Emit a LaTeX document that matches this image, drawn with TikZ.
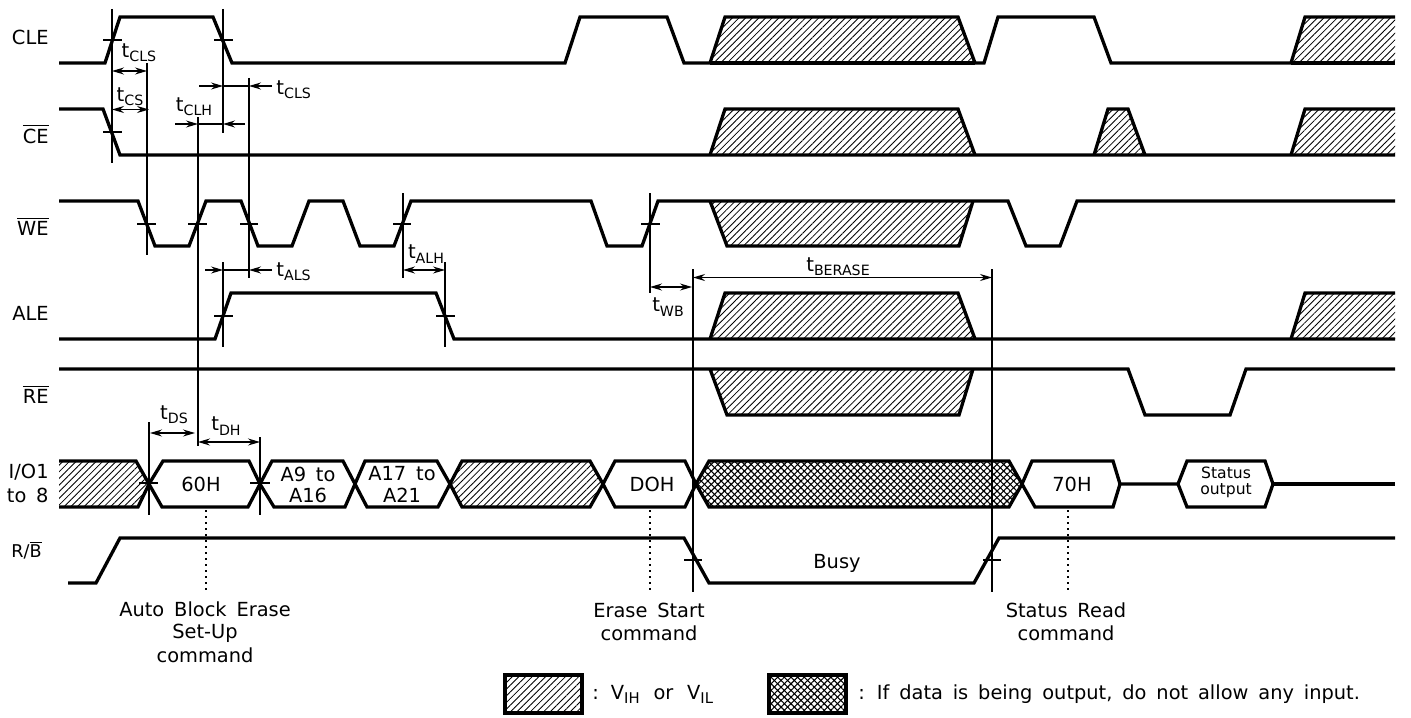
\documentclass[tikz,border=0pt]{standalone}
\usepackage{fontspec}
\setmainfont[WordSpace=1.6]{DejaVu Sans}
\usetikzlibrary{arrows.meta,patterns.meta}
\newcommand{\tsub}[1]{t\raisebox{-2.2pt}{\fontsize{7.1}{8}\selectfont #1}}
\newcommand{\ovl}[1]{$\overline{\mbox{#1}}$}
\tikzset{
  sig/.style={line width=1.65pt,line join=miter,miter limit=10},
  thin line/.style={line width=0.85pt},
  tick/.style={line width=0.6pt},
  hatch/.style={pattern={Lines[angle=45,distance=2.35pt,line width=0.42pt]}},
  xhatchA/.style={pattern={Lines[angle=45,distance=2.35pt,line width=0.55pt]}},
  xhatchB/.style={pattern={Lines[angle=-45,distance=2.35pt,line width=0.55pt]}},
  dimline/.style={line width=0.6pt,{Stealth[length=6pt,width=3.5pt,inset=2pt]}-{Stealth[length=6pt,width=3.5pt,inset=2pt]}},
  dimto/.style={line width=0.6pt,-{Stealth[length=6pt,width=3.5pt,inset=2pt]}},
  lab/.style={inner sep=0pt,font=\fontsize{9.7}{11}\selectfont},
  rblab/.style={inner sep=0pt,font=\fontsize{8.8}{10}\selectfont},
  timelab/.style={inner sep=0pt,font=\fontsize{9.8}{11}\selectfont},
  small/.style={inner sep=0pt,font=\fontsize{7.8}{9}\selectfont},
  dots/.style={line width=0.8pt,dash pattern=on 0.9pt off 2.1pt}
}
\begin{document}
\begin{tikzpicture}[x=0.5pt,y=-0.5pt]
\useasboundingbox[fill=white] (0,0) rectangle (1411,717);
% hatched regions
\foreach \t/\b in {17/63,109/155,293/339}{
  \fill[hatch] (710,\b)--(725,\t)--(958,\t)--(975,\b)--cycle;
  \fill[hatch] (1291,\b)--(1305,\t)--(1395,\t)--(1395,\b)--cycle;
}
\fill[hatch] (1094,155)--(1108,109)--(1128,109)--(1145,155)--cycle;
\foreach \t/\b in {201/246,369/415}{
  \fill[hatch] (710,\t)--(727,\b)--(959,\b)--(973,\t)--cycle;
}
\fill[hatch] (59,461)--(136,461)--(149,484)--(138,507)--(59,507)--cycle;
\fill[hatch] (450,484)--(462,461)--(590,461)--(603,484)--(590,507)--(462,507)--cycle;
\fill[xhatchA] (696,484)--(709,461)--(1009,461)--(1022,484)--(1009,507)--(709,507)--cycle;
\fill[xhatchB] (696,484)--(709,461)--(1009,461)--(1022,484)--(1009,507)--(709,507)--cycle;
\fill[hatch] (505,675) rectangle (582,713);
\fill[xhatchA] (769,675) rectangle (846,713);
\fill[xhatchB] (769,675) rectangle (846,713);
% CLE
\draw[sig] (59,63)--(105,63)--(120,17)--(213,17)--(232,63)--(565,63)--(580,17)--(667,17)--(684,63)--(710,63)--(725,17)--(958,17)--(975,63)--(984,63)--(998,17)--(1094,17)--(1111,63)--(1291,63)--(1305,17)--(1395,17);
\draw[sig] (710,63)--(975,63) (1291,63)--(1395,63);
% CE
\draw[sig] (59,109)--(103,109)--(120,155)--(1395,155);
\draw[sig] (710,155)--(725,109)--(958,109)--(975,155);
\draw[sig] (1094,155)--(1108,109)--(1128,109)--(1145,155);
\draw[sig] (1291,155)--(1305,109)--(1395,109);
% WE
\draw[sig] (59,201)--(138,201)--(155,246)--(189,246)--(206,201)--(241,201)--(258,246)--(292,246)--(309,201)--(343,201)--(360,246)--(394,246)--(411,201)--(591,201)--(607,246)--(642,246)--(658,201)--(1008,201)--(1026,246)--(1060,246)--(1077,201)--(1395,201);
\draw[sig] (710,201)--(727,246)--(959,246)--(973,201);
% ALE
\draw[sig] (59,339)--(215,339)--(231,293)--(436,293)--(454,339)--(1395,339);
\draw[sig] (710,339)--(725,293)--(958,293)--(975,339);
\draw[sig] (1291,339)--(1305,293)--(1395,293);
% RE
\draw[sig] (59,369)--(1128,369)--(1145,415)--(1230,415)--(1246,369)--(1395,369);
\draw[sig] (710,369)--(727,415)--(959,415)--(973,369);
% IO
\draw[sig] (59,461)--(136,461)--(149,484)--(138,507)--(59,507);
\draw[sig] (149,484)--(163,461)--(249,461)--(260,484)--(248,507)--(162,507)--cycle;
\draw[sig] (260,484)--(272,461)--(343,461)--(355,484)--(345,507)--(274,507)--cycle;
\draw[sig] (355,484)--(365,461)--(437,461)--(450,484)--(438,507)--(367,507)--cycle;
\draw[sig] (450,484)--(462,461)--(590,461)--(603,484)--(590,507)--(462,507)--cycle;
\draw[sig] (603,484)--(615,461)--(685,461)--(696,484)--(685,507)--(615,507)--cycle;
\draw[sig] (696,484)--(709,461)--(1009,461)--(1022,484)--(1009,507)--(709,507)--cycle;
\draw[sig] (1022,484)--(1032,461)--(1113,461)--(1120,484)--(1113,507)--(1035,507)--cycle;
\draw[sig] (1120,484)--(1178,484)--(1187,461)--(1265,461)--(1273,484)--(1265,507)--(1187,507)--(1178,484);
\draw[sig] (1273,484)--(1395,484);
% R/B
\draw[sig] (68,583)--(96,583)--(120,538)--(684,538)--(709,583)--(974,583)--(999,538)--(1395,538);
% guide lines
\coordinate (g1a) at (112,9);   \coordinate (g1b) at (112,163);
\coordinate (g2a) at (223,9);   \coordinate (g2b) at (223,133);
\coordinate (g3a) at (147,63);  \coordinate (g3b) at (147,255);
\coordinate (g4a) at (198,117); \coordinate (g4b) at (198,446);
\coordinate (g5a) at (249,78);  \coordinate (g5b) at (249,278);
\coordinate (g6a) at (223,262); \coordinate (g6b) at (223,347);
\coordinate (g7a) at (403,193); \coordinate (g7b) at (403,278);
\coordinate (g8a) at (445,262); \coordinate (g8b) at (445,347);
\coordinate (g9a) at (149,422); \coordinate (g9b) at (149,515);
\coordinate (g10a) at (260,437);\coordinate (g10b) at (260,515);
\coordinate (g11a) at (650,193);\coordinate (g11b) at (650,293);
\coordinate (g12a) at (693,269);\coordinate (g12b) at (693,592);
\coordinate (g13a) at (992,269);\coordinate (g13b) at (992,592);
\foreach \n in {1,...,13}{\draw[thin line] (g\n a)--(g\n b);}
% ticks
\draw[tick] (103,40)--(122,40) (103,132)--(122,132) (214,40)--(233,40);
\draw[tick] (137,224)--(156,224) (188,224)--(207,224) (240,224)--(258,224) (393,224)--(411,224) (641,224)--(660,224);
\draw[tick] (214,316)--(233,316) (436,316)--(455,316);
\draw[tick] (139,483)--(158,483) (250,483)--(270,483);
\draw[tick] (684,560)--(702,560) (983,560)--(1001,560);
% dimension arrows
\coordinate (a1) at (112,71);  \coordinate (a2) at (147,71);
\draw[dimline] (a1)--(a2);
\coordinate (a3) at (112,109.5); \coordinate (a4) at (149,109.5);
\draw[dimline] (a3)--(a4);
\coordinate (b1) at (199,86); \coordinate (b2) at (223,86); \coordinate (b3) at (249,86); \coordinate (b4) at (272,86);
\draw[dimto] (b1)--(b2); \draw[tick] (b2)--(b3); \draw[dimto] (b4)--(b3);
\coordinate (c1) at (175,124); \coordinate (c2) at (198,124); \coordinate (c3) at (223,124); \coordinate (c4) at (245,124);
\draw[dimto] (c1)--(c2); \draw[tick] (c2)--(c3); \draw[dimto] (c4)--(c3);
\coordinate (d1) at (205,270); \coordinate (d2) at (223,270); \coordinate (d3) at (249,270); \coordinate (d4) at (272,270);
\draw[dimto] (d1)--(d2); \draw[tick] (d2)--(d3); \draw[dimto] (d4)--(d3);
\coordinate (e1) at (403,270); \coordinate (e2) at (445,270);
\draw[dimline] (e1)--(e2);
\coordinate (f1) at (150,433); \coordinate (f2) at (195,433);
\draw[dimline] (f1)--(f2);
\coordinate (h1) at (198,442); \coordinate (h2) at (260,442);
\draw[dimline] (h1)--(h2);
\coordinate (i1) at (650,287); \coordinate (i2) at (692,287);
\draw[dimline] (i1)--(i2);
\coordinate (j1) at (693,277.5); \coordinate (j2) at (992,277.5);
\draw[dimline] (j1)--(j2);
% dotted
\coordinate (k1a) at (206,510); \coordinate (k1b) at (206,592);
\coordinate (k2a) at (650,510); \coordinate (k2b) at (650,592);
\coordinate (k3a) at (1068,510); \coordinate (k3b) at (1068,592);
\draw[dots] (k1a)--(k1b); \draw[dots] (k2a)--(k2b); \draw[dots] (k3a)--(k3b);
% legend
\draw[line width=2pt] (505,675) rectangle (582,713);
\draw[line width=2pt] (769,675) rectangle (846,713);
% signal names
\node[lab,anchor=east] (nCLE) at (49,37) {CLE};
\node[lab,anchor=east] (nCE) at (49,134) {\ovl{CE}};
\node[lab,anchor=east] (nWE) at (49,226) {\ovl{WE}};
\node[lab,anchor=east] (nALE) at (49,313) {ALE};
\node[lab,anchor=east] (nRE) at (49,394) {\ovl{RE}};
\node[lab,anchor=east] (nIO) at (49,472) {I/O1};
\node[lab,anchor=east] (nTo) at (49,495) {to 8};
\node[rblab,anchor=east] (nRB) at (42,550) {R/\ovl{B}};
% timing labels
\node[timelab] (l1) at (139,53) {\tsub{CLS}};
\node[timelab] (l2) at (130,97) {\tsub{CS}};
\node[timelab,anchor=west] (l3) at (276,90) {\tsub{CLS}};
\node[timelab] (l4) at (194,107) {\tsub{CLH}};
\node[timelab,anchor=west] (l5) at (276,272) {\tsub{ALS}};
\node[timelab] (l6) at (426,254) {\tsub{ALH}};
\node[timelab] (l7) at (668,307) {\tsub{WB}};
\node[timelab] (l8) at (838,267) {\tsub{BERASE}};
\node[timelab] (l9) at (174,415) {\tsub{DS}};
\node[timelab] (l10) at (226,426) {\tsub{DH}};
% box text
\node[lab] (t60) at (201,484) {60H};
\node[lab] (tA9) at (308,474) {A9 to};
\node[lab] (tA16) at (308,495) {A16};
\node[lab] (tA17) at (402,474) {A17 to};
\node[lab] (tA21) at (402,495) {A21};
\node[lab] (tD0) at (652,484) {DOH};
\node[lab] (t70) at (1072,484) {70H};
\node[small] (tS1) at (1226,473) {Status};
\node[small] (tS2) at (1226,491) {output};
\node[lab] (tBusy) at (837,563) {Busy};
% notes
\node[lab] (n1) at (205,609) {Auto Block Erase};
\node[lab] (n2) at (205,633) {Set-Up};
\node[lab] (n3) at (205,655) {command};
\node[lab] (n4) at (649,610) {Erase Start};
\node[lab] (n5) at (649,633) {command};
\node[lab] (n6) at (1066,610) {Status Read};
\node[lab] (n7) at (1066,633) {command};
% legend text
\node[lab,anchor=west] (lg1) at (592,694) {: V\raisebox{-2pt}{\fontsize{7.4}{8}\selectfont IH}\hspace{2pt} or\hspace{2pt} V\raisebox{-2pt}{\fontsize{7.4}{8}\selectfont IL}};
\node[lab,anchor=west] (lg2) at (858,694) {: If data is being output, do not allow any input.};
\end{tikzpicture}
\end{document}
